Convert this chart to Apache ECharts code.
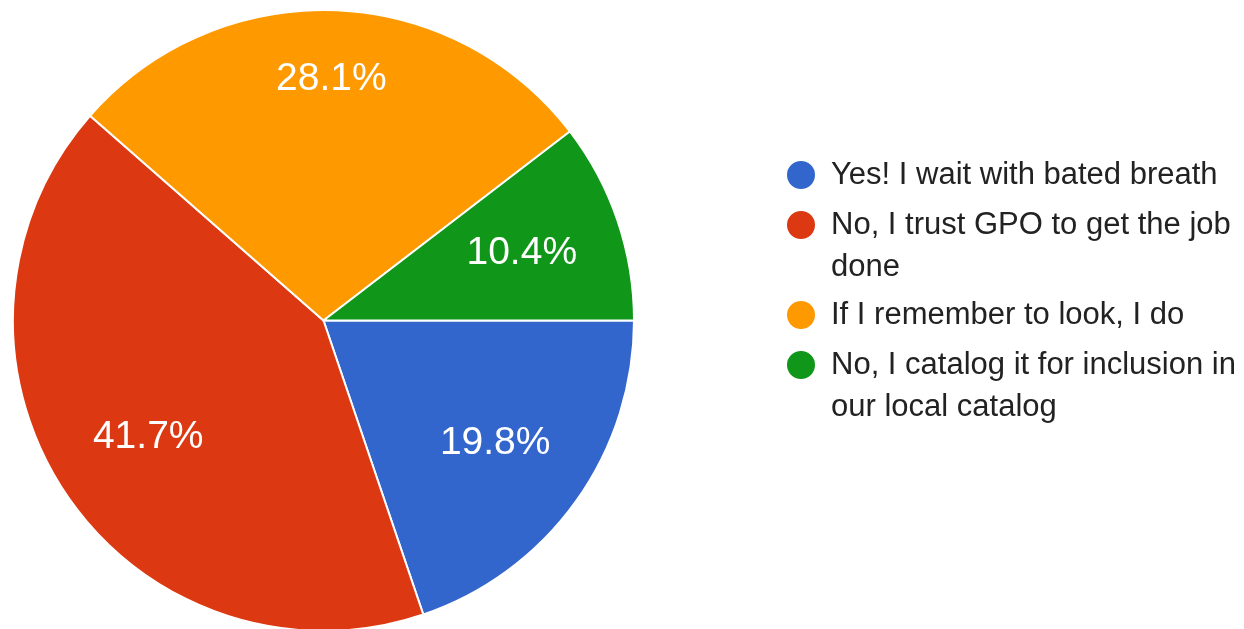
<!DOCTYPE html>
<html>
<head>
<meta charset="utf-8">
<title>pie</title>
<script src="https://cdn.jsdelivr.net/npm/echarts@6/dist/echarts.min.js"></script>
<style>
  html, body { margin: 0; padding: 0; background: #fff; }
  #chart { width: 1244px; height: 629px; }
</style>
</head>
<body>
<div id="chart"></div>
<script>
// answers, in the order they appear in the legend
const answers = [
  'Yes! I wait with bated breath',
  'No, I trust GPO to get the job done',
  'If I remember to look, I do',
  'No, I catalog it for inclusion in our local catalog'
]
// response counts (96 in total -> 19.8 / 41.7 / 28.1 / 10.4 %)
const counts = [19, 40, 27, 10]
// how the legend wraps each answer
const legendLines = [
  ['Yes! I wait with bated breath'],
  ['No, I trust GPO to get the job', 'done'],
  ['If I remember to look, I do'],
  ['No, I catalog it for inclusion in', 'our local catalog']
]
const colors = ['#3366cc', '#dc3912', '#ff9900', '#109618']

const CX = 323.5, CY = 320.5, R = 310.5
const LABEL_R = 268 // far corner of each label sits on this radius
const LINE_H = 42

const chart = echarts.init(document.getElementById('chart'))

// one legend per entry so the icon lines up with the first text line
const iconCenters = [175, 225, 315, 365]
const legends = answers.map((name, i) => {
  const lines = legendLines[i]
  // pad with blank lines on top so the first line is the middle one
  const pad = lines.length - 1
  const text = '\n'.repeat(pad) + lines.join('\n')
  return {
    data: [name],
    orient: 'vertical',
    left: 785,
    top: iconCenters[i] - LINE_H / 2 - pad * LINE_H,
    padding: 0,
    icon: 'circle',
    itemWidth: 30,
    itemHeight: 30,
    selectedMode: false,
    formatter: () => text,
    textStyle: {
      fontFamily: 'Liberation Sans, Arial, sans-serif',
      fontSize: 31,
      color: '#222',
      lineHeight: LINE_H,
      padding: [0, 0, 0, 10]
    }
  }
})

const option = {
  animation: false,
  color: colors,
  legend: legends,
  series: [
    {
      type: 'pie',
      center: [CX, CY],
      radius: [0, R],
      startAngle: 0,
      clockwise: true,
      percentPrecision: 1,
      silent: true,
      emphasis: { disabled: true },
      itemStyle: {
        borderColor: '#fff',
        borderWidth: 2
      },
      label: {
        show: true,
        position: 'inside',
        formatter: '{d}%',
        color: '#fff',
        fontFamily: 'Liberation Sans, Arial, sans-serif',
        fontSize: 39
      },
      labelLine: { show: false },
      // push labels out along their direction until the far corner hits LABEL_R
      labelLayout: (p) => {
        const r = p.labelRect
        const mx = r.x + r.width / 2 - CX
        const my = r.y + r.height / 2 - CY
        const len = Math.sqrt(mx * mx + my * my) || 1
        const ux = mx / len, uy = my / len
        const sx = (ux >= 0 ? 1 : -1) * r.width / 2
        const sy = (uy >= 0 ? 1 : -1) * r.height / 2
        const us = ux * sx + uy * sy
        const d = -us + Math.sqrt(us * us - (sx * sx + sy * sy) + LABEL_R * LABEL_R)
        return {
          x: CX + ux * d,
          y: CY + uy * d,
          align: 'center',
          verticalAlign: 'middle'
        }
      },
      data: answers.map((name, i) => ({ name: name, value: counts[i] }))
    }
  ]
}

option && chart.setOption(option)
</script>
</body>
</html>
